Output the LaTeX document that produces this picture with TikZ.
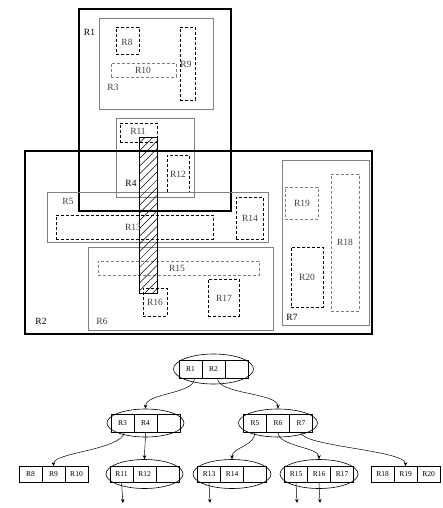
\documentclass[tikz,border=0pt]{standalone}
\usepackage{fontspec}
\setmainfont{Liberation Serif}
\usetikzlibrary{fit,shapes.geometric,arrows.meta,patterns.meta}
\definecolor{gline}{HTML}{808080}
\definecolor{lbl}{HTML}{404040}
\begin{document}
\begin{tikzpicture}[x=1pt,y=-1pt,
  thickbox/.style={draw=black,line width=2.3pt,inner sep=0pt},
  graybox/.style={draw=gline,line width=0.9pt,inner sep=0pt},
  dbox/.style={draw=black,dash pattern=on 3pt off 2pt,line width=0.8pt,inner sep=0pt},
  gdbox/.style={draw=gline,dash pattern=on 3pt off 2pt,line width=0.8pt,inner sep=0pt},
  lab/.style={font=\fontsize{9.5}{10}\selectfont,inner sep=0pt,text=lbl},
  blab/.style={font=\fontsize{9.5}{10}\selectfont,inner sep=0pt,text=black},
  cell/.style={draw=black,line width=0.6pt,minimum width=23pt,minimum height=18pt,inner sep=0pt,font=\fontsize{7.5}{8}\selectfont},
  lcell/.style={cell,minimum height=16pt},
  oval/.style={draw=black,ellipse,line width=0.6pt,inner sep=0pt},
  link/.style={line width=0.5pt,-{Stealth[length=4pt,width=3.5pt]}}
]
\useasboundingbox (0,0) rectangle (442,508);

% ---------- upper picture ----------
\node[thickbox,fit={(79,9) (231,211)}] (R1) {};
\node[graybox,fit={(99,18) (213,109)}] (R3) {};
\node[dbox,fit={(116,27) (139,54)}] (R8) {};
\node[gdbox,fit={(111,63) (176,77)}] (R10) {};
\node[dbox,fit={(180,27) (195,100)}] (R9) {};
\node[graybox,fit={(116,118) (194,197)}] (R4) {};
\node[dbox,fit={(120,123) (157,142)}] (R11) {};
\node[dbox,fit={(167,155) (189,192)}] (R12) {};
\node[thickbox,fit={(25,151) (372,334)}] (R2) {};
\node[graybox,fit={(47,192) (268,242)}] (R5) {};
\node[dbox,fit={(56,215) (213,239)}] (R13) {};
\node[dbox,fit={(236,197) (263,239)}] (R14) {};
\node[graybox,fit={(88,247) (273,330)}] (R6) {};
\node[gdbox,fit={(98,261) (259,275)}] (R15) {};
\node[dbox,fit={(143,288) (167,316)}] (R16) {};
\node[dbox,fit={(208,279) (239,316)}] (R17) {};
\node[graybox,fit={(282,160) (369,325)}] (R7) {};
\node[gdbox,fit={(285,187) (318,219)}] (R19) {};
\node[gdbox,fit={(331,174) (359,311)}] (R18) {};
\node[dbox,fit={(291,247) (323,307)}] (R20) {};
\node[draw=black,line width=0.9pt,inner sep=0pt,fit={(139,137) (157,293)},
  pattern={Lines[angle=45,distance=5.5pt,line width=0.5pt]}] (H) {};

\node[blab] (l1) at (89.5,32) {R1};
\node[lab] (l3) at (113,87) {R3};
\node[lab] (l8) at (127,42) {R8};
\node[lab] (l10) at (143,70) {R10};
\node[lab] (l9) at (186,64) {R9};
\node[lab] (l11) at (138,131) {R11};
\node[blab] (l4) at (131,183) {R4};
\node[lab] (l12) at (178,174) {R12};
\node[blab] (l2) at (41,321) {R2};
\node[lab] (l5) at (68,201) {R5};
\node[lab] (l13) at (133,227) {R13};
\node[lab] (l14) at (250,218) {R14};
\node[lab] (l6) at (102,321) {R6};
\node[lab] (l15) at (177,268) {R15};
\node[lab] (l16) at (155,302) {R16};
\node[lab] (l17) at (224,298) {R17};
\node[blab] (l7) at (292,317) {R7};
\node[lab] (l19) at (302,203) {R19};
\node[lab] (l18) at (345,242) {R18};
\node[lab] (l20) at (307,277) {R20};

% ---------- tree ----------
% root
\node[oval,minimum width=80pt,minimum height=30pt] (e1) at (213.5,369) {};
\node[cell] (c1) at (190.5,369) {R1};
\node[cell] (c2) at (213.5,369) {R2};
\node[cell] (c0a) at (236.5,369) {};
% level 2
\node[oval,minimum width=77pt,minimum height=28pt] (e2) at (145.5,423) {};
\node[cell] (c3) at (122.5,423) {R3};
\node[cell] (c4) at (145.5,423) {R4};
\node[cell] (c0b) at (168.5,423) {};
\node[oval,minimum width=79pt,minimum height=28pt] (e3) at (278,423) {};
\node[cell] (c5) at (255,423) {R5};
\node[cell] (c6) at (278,423) {R6};
\node[cell] (c7) at (301,423) {R7};
% level 3
\node[lcell] (c8) at (30.5,474.5) {R8};
\node[lcell] (c9) at (53.5,474.5) {R9};
\node[lcell] (c10) at (76.5,474.5) {R10};
\node[oval,minimum width=77pt,minimum height=29pt] (e5) at (144.5,474) {};
\node[lcell] (c11) at (121.5,474.5) {R11};
\node[lcell] (c12) at (144.5,474.5) {R12};
\node[lcell] (c0c) at (167.5,474.5) {};
\node[oval,minimum width=78pt,minimum height=29pt] (e6) at (232,474) {};
\node[lcell] (c13) at (209,474.5) {R13};
\node[lcell] (c14) at (232,474.5) {R14};
\node[lcell] (c0d) at (255,474.5) {};
\node[oval,minimum width=78pt,minimum height=29pt] (e7) at (319,474) {};
\node[lcell] (c15) at (296,474.5) {R15};
\node[lcell] (c16) at (319,474.5) {R16};
\node[lcell] (c17) at (342,474.5) {R17};
\node[lcell] (c18) at (382.5,474.5) {R18};
\node[lcell] (c19) at (405.5,474.5) {R19};
\node[lcell] (c20) at (428.5,474.5) {R20};

\coordinate (d11) at (123,503);
\coordinate (d13) at (210,503);
\coordinate (d15) at (297,503);
\coordinate (d16) at (320,503);

\draw[link] ([xshift=4pt]c1.south) .. controls +(0,16) and +(0,-16) .. (e2.north);
\draw[link] ([xshift=4pt]c2.south) .. controls +(0,16) and +(0,-16) .. (e3.north);
\draw[link] ([xshift=2pt]c3.south) .. controls +(-4,18) and +(0,-14) .. (c9.north);
\draw[link] (c4.south) .. controls +(0,10) and +(0,-10) .. (e5.north);
\draw[link] (c5.south) .. controls +(0,14) and +(0,-12) .. (e6.north);
\draw[link] (c6.south) .. controls +(0,14) and +(0,-12) .. (e7.north);
\draw[link] (c7.south) .. controls +(0,14) and +(0,-16) .. (c19.north);
\draw[link] (c11.south) -- (d11);
\draw[link] (c13.south) -- (d13);
\draw[link] (c15.south) -- (d15);
\draw[link] (c16.south) -- (d16);
\end{tikzpicture}
\end{document}
